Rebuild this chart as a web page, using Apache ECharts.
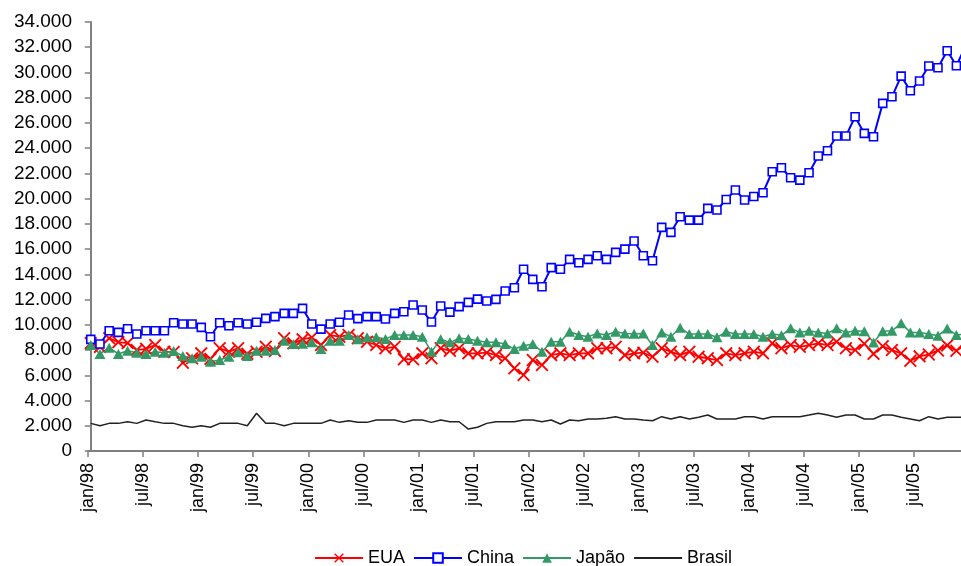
<!DOCTYPE html>
<html><head><meta charset="utf-8">
<script src="https://cdn.jsdelivr.net/npm/echarts@6/dist/echarts.min.js"></script>
<style>html,body{margin:0;padding:0;background:#fff}#c{width:961px;height:566px}</style>
</head><body><div id="c"></div>
<script>
// Monthly values, jan/98 .. dez/05 (last month only partly visible at the right edge)
const monthNames = ['jan','fev','mar','abr','mai','jun','jul','ago','set','out','nov','dez'];
const years = ['98','99','00','01','02','03','04','05'];
const categories = [];
years.forEach(y => monthNames.forEach(m => categories.push(m + '/' + y)));

const xTickLabels = ['jan/98','jul/98','jan/99','jul/99','jan/00','jul/00','jan/01','jul/01',
  'jan/02','jul/02','jan/03','jul/03','jan/04','jul/04','jan/05','jul/05'];

const eua = [
  8550, 8250, 8930, 8630, 8550, 8000, 8100, 8400, 7870, 7850, 7000, 7350,
  7740, 7300, 8140, 7870, 8140, 7700, 7870, 8260, 7920, 8930, 8530, 8850,
  9000, 8400, 9190, 9060, 9190, 8930, 8660, 8400, 8140, 8260, 7270, 7270,
  7740, 7350, 8140, 7950, 8140, 7740, 7740, 7790, 7600, 7350, 6550, 6020,
  7210, 6810, 7600, 7740, 7600, 7740, 7740, 8140, 8140, 8260, 7600, 7740,
  7790, 7470, 8140, 7870, 7600, 7870, 7470, 7350, 7210, 7740, 7600, 7740,
  7870, 7740, 8530, 8140, 8400, 8260, 8400, 8530, 8400, 8660, 8140, 8000,
  8500, 7700, 8300, 8000, 7740, 7150, 7500, 7650, 7970, 8370, 7950, 8450
];
const china = [
  8850, 8480, 9530, 9400, 9690, 9270, 9530, 9530, 9530, 10170, 10060, 10060,
  9800, 9060, 10170, 9930, 10170, 10060, 10200, 10510, 10650, 10910, 10910, 11300,
  10060, 9660, 10060, 10200, 10780, 10490, 10650, 10650, 10460, 10910, 11040, 11570,
  11170, 10220, 11490, 11010, 11440, 11780, 12040, 11890, 12020, 12680, 12940, 14400,
  13600, 13020, 14530, 14400, 15190, 14920, 15190, 15480, 15190, 15740, 16000, 16640,
  15480, 15080, 17720, 17330, 18570, 18300, 18300, 19230, 19100, 19930, 20680, 19890,
  20170, 20470, 22130, 22450, 21660, 21470, 22050, 23380, 23800, 24960, 24960, 26490,
  25170, 24900, 27550, 28070, 29710, 28550, 29320, 30510, 30370, 31720, 30530, 32100
];
const japao = [
  8400, 7690, 8190, 7690, 7950, 7790, 7690, 7870, 7790, 7920, 7530, 7350,
  7470, 7080, 7210, 7470, 7820, 7530, 7950, 7950, 8000, 8740, 8480, 8500,
  8610, 8080, 8740, 8740, 9190, 8850, 9010, 9010, 8870, 9190, 9190, 9190,
  9060, 7870, 8850, 8610, 8930, 8870, 8740, 8610, 8610, 8480, 8080, 8340,
  8480, 7870, 8660, 8660, 9450, 9190, 9060, 9320, 9190, 9450, 9320, 9300,
  9320, 8400, 9400, 9060, 9770, 9270, 9270, 9270, 9010, 9450, 9270, 9270,
  9270, 9060, 9270, 9170, 9720, 9400, 9530, 9400, 9320, 9720, 9400, 9530,
  9500, 8600, 9500, 9530, 10120, 9400, 9400, 9270, 9140, 9700, 9200, 9250
];
const brasil = [
  2190, 2000, 2190, 2190, 2320, 2190, 2460, 2320, 2190, 2190, 2000, 1880,
  2000, 1880, 2190, 2190, 2190, 2000, 2990, 2190, 2190, 2000, 2190, 2190,
  2190, 2190, 2460, 2270, 2400, 2270, 2270, 2460, 2460, 2460, 2270, 2460,
  2460, 2270, 2460, 2320, 2320, 1740, 1880, 2190, 2320, 2320, 2320, 2460,
  2460, 2320, 2460, 2140, 2460, 2400, 2540, 2540, 2590, 2720, 2540, 2540,
  2460, 2400, 2720, 2540, 2720, 2540, 2670, 2850, 2540, 2540, 2540, 2720,
  2720, 2540, 2720, 2720, 2720, 2720, 2850, 2990, 2850, 2670, 2850, 2850,
  2540, 2540, 2850, 2850, 2670, 2540, 2400, 2720, 2540, 2670, 2670, 2670
];

const FONT = "'Liberation Sans', Arial, sans-serif";
const TICK_STEP = 6 * 0.9967;   // tick spacing (months) as drawn on the date axis
const TICK_OFF = -0.3;
const tickValues = xTickLabels.map((_, k) => k * TICK_STEP + TICK_OFF);

const crossPath = 'path://M0,1L1,0L5,4L9,0L10,1L6,5L10,9L9,10L5,6L1,10L0,9L4,5Z';
const toPairs = arr => arr.map((v, i) => [i, v]);

const chart = echarts.init(document.getElementById('c'));
chart.setOption({
  backgroundColor: '#fff',
  animation: false,
  grid: { left: 88, right: 0, top: 22, bottom: 115, containLabel: false },
  xAxis: {
    type: 'value',
    min: TICK_OFF,
    max: 94.5,
    splitLine: { show: false },
    axisLine: { show: true, onZero: false, lineStyle: { color: '#808080', width: 2 } },
    axisTick: { show: true, length: 6, customValues: tickValues, lineStyle: { color: '#808080', width: 1.5 } },
    axisLabel: {
      customValues: tickValues,
      rotate: 90,
      margin: 12,
      color: '#000',
      fontFamily: FONT,
      fontSize: 18,
      formatter: v => xTickLabels[Math.round((v - TICK_OFF) / TICK_STEP)]
    }
  },
  yAxis: {
    type: 'value',
    min: 0,
    max: 34000,
    interval: 2000,
    splitLine: { show: false },
    axisLine: { show: true, lineStyle: { color: '#808080', width: 2 } },
    axisTick: { show: true, length: 6, lineStyle: { color: '#808080', width: 1.5 } },
    axisLabel: {
      margin: 16,
      color: '#000',
      fontFamily: FONT,
      fontSize: 19,
      formatter: v => v === 0 ? '0' : (v / 1000) + '.000'
    }
  },
  legend: {
    left: 314,
    top: 549,
    padding: 0,
    itemWidth: 48,
    itemHeight: 12,
    itemGap: 8,
    textStyle: { color: '#000', fontFamily: FONT, fontSize: 18 },
    data: ['EUA', 'China', 'Japão', { name: 'Brasil', itemStyle: { opacity: 0 } }]
  },
  series: [
    {
      name: 'EUA', type: 'line', data: toPairs(eua),
      symbol: crossPath, symbolSize: 13,
      lineStyle: { color: '#ff0000', width: 1.8 },
      itemStyle: { color: '#ff0000' }
    },
    {
      name: 'China', type: 'line', data: toPairs(china),
      symbol: 'rect', symbolSize: 8,
      lineStyle: { color: '#0000ff', width: 2 },
      itemStyle: { color: '#ffffff', borderColor: '#0000ff', borderWidth: 1.6 }
    },
    {
      name: 'Japão', type: 'line', data: toPairs(japao),
      symbol: 'triangle', symbolSize: [11, 10],
      lineStyle: { color: '#339966', width: 1.5 },
      itemStyle: { color: '#339966' }
    },
    {
      name: 'Brasil', type: 'line', data: toPairs(brasil),
      symbol: 'none',
      lineStyle: { color: '#222222', width: 1.5 },
      itemStyle: { color: '#222222' }
    }
  ]
});
</script>
</body></html>
